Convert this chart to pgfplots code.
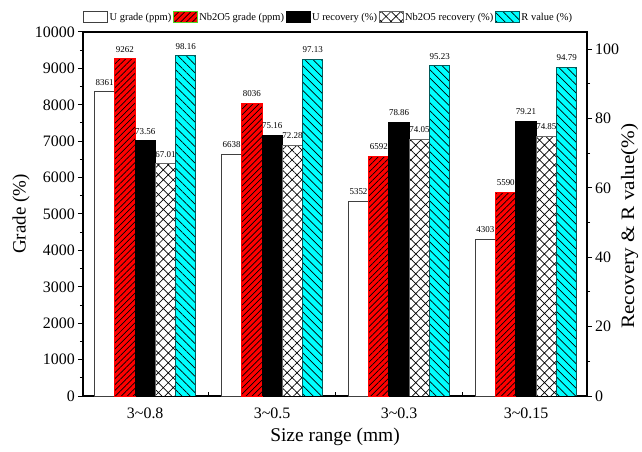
\documentclass[border=0pt]{standalone}
\usepackage{pgfplots}
\pgfplotsset{compat=1.18}
\usetikzlibrary{patterns.meta}
\usepackage{fontspec}
\setmainfont{Liberation Serif}
\definecolor{rborder}{RGB}{0,90,90}
\definecolor{lgreen}{RGB}{80,215,40}
\definecolor{mycyan}{RGB}{0,255,255}
\definecolor{myred}{RGB}{255,0,0}

\pgfplotsset{
  boxleg/.style={legend image code/.code={\draw[##1] (0bp,-5.5bp) rectangle (24bp,5.5bp);}},
  ugrade/.style={ybar, bar width=20.3bp, draw=black!75, fill=white, line width=1bp},
  nbgrade/.style={ybar, bar width=20.3bp, draw=myred, fill=myred, line width=1bp,
     postaction={pattern={Lines[angle=45,distance=4.2bp,line width=0.7bp]}, pattern color=black}},
  urec/.style={ybar, bar width=20.3bp, draw=black, fill=black, line width=1bp},
  nbrec/.style={ybar, bar width=20.3bp, draw=black!60, fill=white, line width=1bp,
     postaction={pattern={Hatch[angle=45,distance=7bp,line width=0.7bp]}, pattern color=black}},
  rval/.style={ybar, bar width=20.3bp, draw=rborder, fill=mycyan, line width=1bp,
     postaction={pattern={Lines[angle=-45,distance=5.8bp,line width=0.7bp]}, pattern color=black}},
  barlab/.style={nodes near coords, point meta=explicit symbolic,
     nodes near coords style={font=\fontsize{9}{9}\selectfont, text=black, anchor=south, inner sep=1.5bp, xshift=#1, yshift=4.5bp}},
  common/.style={at={(0,0)}, anchor=south west, scale only axis, width=504bp, height=364bp,
     xmin=-0.49, xmax=3.48,
     scaled y ticks=false,
     /pgf/number format/assume math mode=true, /pgf/number format/1000 sep={},
     ticklabel style={font=\fontsize{16}{16}\selectfont},
     tick align=outside, major tick length=5bp, minor tick length=3bp,
     axis line style={line width=1.2bp}}
}

\begin{document}
\begin{tikzpicture}
\path[use as bounding box] (-83bp,-56bp) rectangle (559bp,396bp);

% left axis: grades
\begin{axis}[common,
  ymin=0, ymax=10000,
  xtick={0,1,2,3},
  xticklabels={3\textasciitilde 0.8, 3\textasciitilde 0.5, 3\textasciitilde 0.3, 3\textasciitilde 0.15},
  xtick pos=bottom, xtick style={draw=none},
  x tick label style={yshift=-3.5bp},
  ytick={0,1000,...,10000}, minor y tick num=1, ytick pos=left,
  ytick style={black, line width=1bp},
  y tick label style={inner xsep=3bp},
  xlabel={Size range (mm)},
  xlabel style={font=\fontsize{19.5}{19.5}\selectfont, at={(axis description cs:0.5,-0.1126)}, anchor=center},
  ylabel={Grade (\%)},
  ylabel style={font=\fontsize{19}{19}\selectfont, at={(axis description cs:-0.123,0.5)}, anchor=center},
]
\addplot[ugrade, bar shift=-40.6bp, barlab=-40.6bp] coordinates {(0,8361)[8361] (1,6638)[6638] (2,5352)[5352] (3,4303)[4303]};
\addplot[nbgrade, bar shift=-20.3bp, barlab=-20.3bp] coordinates {(0,9262)[9262] (1,8036)[8036] (2,6592)[6592] (3,5590)[5590]};
\end{axis}

% right axis: recoveries
\begin{axis}[common,
  ymin=0, ymax=105,
  axis x line=none, axis y line*=right,
  ytick={0,20,...,100}, minor y tick num=1,
  ytick style={black, line width=1bp},
  y tick label style={inner xsep=3bp},
  ylabel={\scalebox{1.12}[1]{Recovery \& R value(\%)}},
  ylabel style={font=\fontsize{19}{19}\selectfont, at={(axis description cs:1.0845,0.467)}, anchor=center},
  legend columns=5,
  legend style={at={(0,1)}, anchor=west, yshift=14.5bp, draw=none, fill=none, inner sep=0pt,
     font=\fontsize{10.5}{10.5}\selectfont, column sep=0pt,
     nodes={inner xsep=1.5bp, inner ysep=0pt}},
]
\addlegendimage{ugrade, boxleg}
\addlegendentry{U grade (ppm)}
\addlegendimage{nbgrade, draw=lgreen, boxleg}
\addlegendentry{Nb2O5 grade (ppm)}
\addplot[urec, bar shift=0bp, barlab=0bp, boxleg] coordinates {(0,73.56)[73.56] (1,75.16)[75.16] (2,78.86)[78.86] (3,79.21)[79.21]};
\addlegendentry{U recovery (\%)}
\addplot[nbrec, bar shift=20.3bp, barlab=20.3bp, boxleg] coordinates {(0,67.01)[67.01] (1,72.28)[72.28] (2,74.05)[74.05] (3,74.85)[74.85]};
\addlegendentry{Nb2O5 recovery (\%)}
\addplot[rval, bar shift=40.6bp, barlab=40.6bp, boxleg] coordinates {(0,98.16)[98.16] (1,97.13)[97.13] (2,95.23)[95.23] (3,94.79)[94.79]};
\addlegendentry{R value (\%)}
\end{axis}

% group boundary ticks on the x axis
\begin{axis}[at={(0,0)}, anchor=south west, scale only axis, width=504bp, height=364bp,
  xmin=-0.49, xmax=3.48, ymin=0, ymax=1,
  hide y axis, axis x line*=bottom, axis line style={draw=none},
  xtick={0.5,1.5,2.5}, xticklabels={}, tick align=inside, major tick length=4bp,
  xtick style={black, line width=1bp}]
\end{axis}
\end{tikzpicture}
\end{document}
